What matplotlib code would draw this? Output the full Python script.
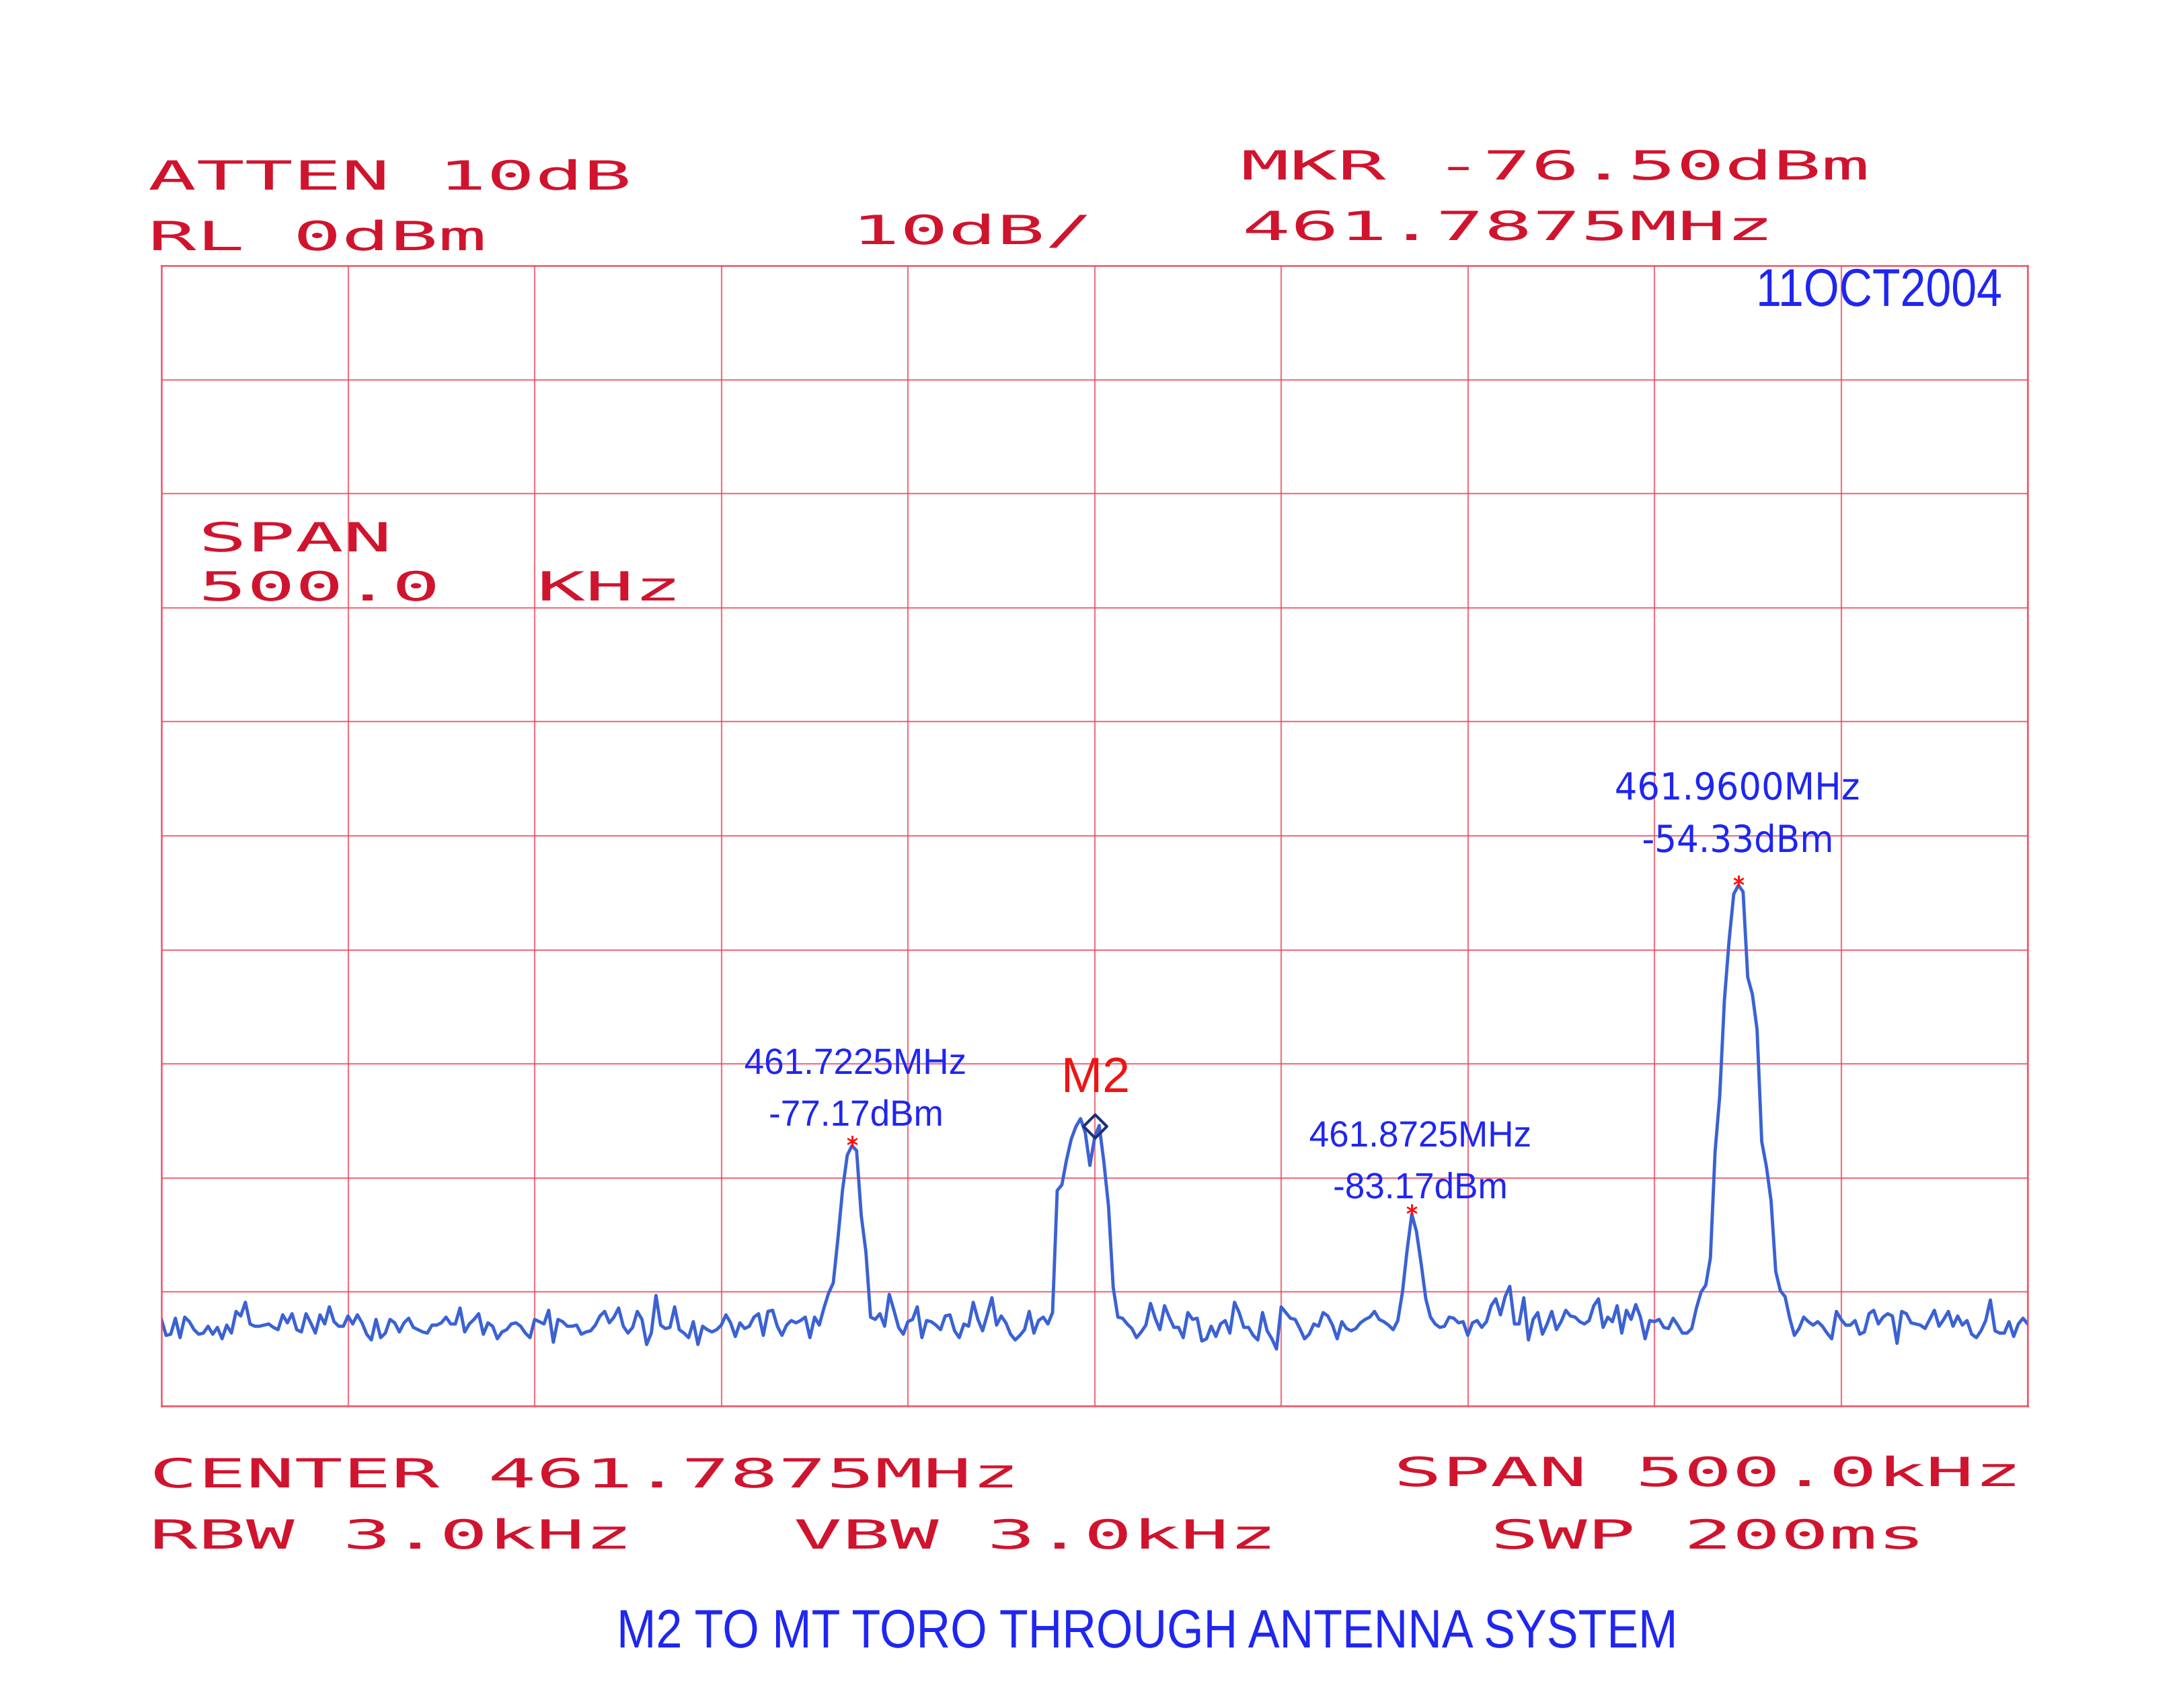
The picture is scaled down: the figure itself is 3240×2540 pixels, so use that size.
import numpy as np
import matplotlib
matplotlib.use("Agg")
import matplotlib.pyplot as plt
import matplotlib.patheffects as pe
from matplotlib.transforms import Affine2D
from matplotlib.path import Path

# ============================================================
# DATA
# ============================================================
CENTER_MHZ = 461.7875
SPAN_KHZ = 500.0
REF_LEVEL = 0.0
DB_PER_DIV = 10.0

# 401-point trace, dBm, from left edge to right edge of the span
trace_dbm = [
    -92.4, -93.8, -93.7, -92.3, -94.0, -92.2, -92.6, -93.3, -93.7, -93.6,
    -93.0, -93.7, -93.1, -94.1, -92.9, -93.6, -91.7, -92.1, -90.9, -92.8,
    -93.0, -93.0, -92.9, -92.8, -93.1, -93.3, -92.0, -92.7, -91.9, -93.3,
    -93.5, -91.9, -92.7, -93.6, -92.0, -92.8, -91.3, -92.6, -93.0, -93.0,
    -92.1, -92.8, -92.0, -92.7, -93.7, -94.2, -92.4, -94.0, -93.6, -92.4,
    -92.7, -93.5, -92.7, -92.3, -93.1, -93.3, -93.5, -93.6, -92.9, -92.9,
    -92.7, -92.2, -92.8, -92.8, -91.4, -93.5, -92.8, -92.4, -91.9, -93.7,
    -92.7, -93.0, -94.1, -93.5, -93.3, -92.8, -92.7, -93.0, -93.6, -94.0,
    -92.4, -92.6, -92.8, -91.6, -94.4, -92.4, -92.6, -93.0, -93.0, -92.9,
    -93.7, -93.5, -93.4, -92.9, -92.1, -91.7, -92.7, -92.2, -91.4, -93.0,
    -93.6, -93.1, -91.7, -92.4, -94.6, -93.6, -90.3, -92.9, -93.2, -93.1,
    -91.3, -93.3, -93.6, -94.0, -92.6, -94.6, -93.0, -93.3, -93.5, -93.3,
    -92.9, -92.0, -92.7, -93.9, -92.7, -93.2, -93.0, -92.2, -91.9, -93.8,
    -91.7, -91.6, -93.0, -93.8, -92.9, -92.5, -92.7, -92.5, -92.2, -94.0,
    -92.2, -92.9, -91.4, -90.1, -89.2, -85.3, -81.0, -78.0, -77.17, -77.6,
    -83.3, -86.5, -92.2, -92.4, -91.9, -93.0, -90.2, -91.6, -93.1, -93.7,
    -92.6, -92.4, -91.3, -94.0, -92.5, -92.6, -92.9, -93.3, -92.1, -92.0,
    -93.4, -94.0, -92.8, -93.0, -90.9, -92.4, -93.4, -92.0, -90.5, -92.9,
    -92.1, -92.7, -93.7, -94.2, -93.8, -93.3, -91.7, -93.6, -92.5, -92.2,
    -92.8, -91.8, -81.1, -80.6, -78.4, -76.6, -75.5, -74.8, -76.0, -78.9,
    -76.5, -75.4, -78.6, -82.5, -89.6, -92.2, -92.3, -92.8, -93.2, -94.0,
    -93.5, -92.9, -91.0, -92.3, -93.3, -91.2, -92.2, -93.1, -93.1, -94.0,
    -91.8, -92.4, -92.3, -94.3, -94.1, -93.0, -93.9, -92.8, -92.5, -93.6,
    -90.9, -91.8, -93.1, -93.1, -93.8, -94.2, -91.8, -93.4, -94.1, -95.0,
    -91.3, -91.8, -92.3, -92.4, -93.2, -94.1, -93.7, -92.8, -93.0, -91.8,
    -92.1, -92.9, -94.1, -92.6, -93.2, -93.4, -93.2, -92.7, -92.4, -92.2,
    -91.7, -92.4, -92.6, -92.9, -93.3, -92.5, -90.0, -86.3, -83.17, -84.7,
    -87.5, -90.6, -92.2, -92.8, -93.1, -93.0, -92.2, -92.3, -92.7, -92.6,
    -93.8, -92.7, -92.5, -93.1, -92.6, -91.2, -90.6, -92.0, -90.4, -89.5,
    -92.8, -92.8, -90.5, -94.2, -92.4, -91.8, -93.7, -92.8, -91.7, -93.3,
    -92.6, -91.6, -92.1, -92.2, -92.6, -92.8, -92.5, -91.2, -90.6, -93.1,
    -92.2, -92.6, -91.2, -93.6, -91.6, -92.4, -91.1, -92.2, -94.1, -92.5,
    -92.6, -92.4, -93.1, -93.2, -92.3, -92.9, -93.6, -93.6, -93.2, -91.4,
    -90.0, -89.4, -87.0, -77.7, -72.8, -64.4, -59.2, -55.1, -54.33, -54.9,
    -62.4, -63.9, -67.0, -76.8, -79.0, -82.0, -88.2, -89.9, -90.4, -92.3,
    -93.8, -93.2, -92.2, -92.6, -92.9, -92.6, -93.0, -93.6, -94.1, -91.7,
    -92.4, -92.9, -92.9, -92.5, -93.7, -93.5, -91.9, -91.6, -92.8, -92.2,
    -91.9, -92.1, -94.5, -91.7, -91.9, -92.7, -92.8, -92.9, -93.2, -92.4,
    -91.6, -93.0, -92.4, -91.7, -93.0, -92.1, -92.9, -92.5, -93.7, -94.0,
    -93.4, -92.5, -90.7, -93.4, -93.6, -93.6, -92.6, -93.9, -92.8, -92.3,
    -92.8,
]

peak_freqs = [461.7225, 461.8725, 461.9600]
peak_levels = [-77.17, -83.17, -54.33]
marker_freq = 461.7875
marker_level = -76.50

# ============================================================
# FIGURE
# ============================================================
W, H = 3240, 2540
fig = plt.figure(figsize=(W / 100, H / 100), dpi=100)
fig.patch.set_facecolor("white")

RED = "#d0142e"
GRID = "#ee4458"
TRACE = "#3b62d4"
BLUE = "#1f26f0"

f_start = CENTER_MHZ - SPAN_KHZ / 2000
f_stop = CENTER_MHZ + SPAN_KHZ / 2000
freqs = np.linspace(f_start, f_stop, len(trace_dbm))

left, right, top, bottom = 240, 3015, 395, 2091
ax = fig.add_axes([left / W, 1 - bottom / H, (right - left) / W, (bottom - top) / H])
ax.set_xlim(f_start, f_stop)
ax.set_ylim(REF_LEVEL - 10 * DB_PER_DIV, REF_LEVEL)
ax.set_xticks(np.linspace(f_start, f_stop, 11))
ax.set_yticks(np.arange(REF_LEVEL - 10 * DB_PER_DIV, REF_LEVEL + 1, DB_PER_DIV))
ax.tick_params(length=0, labelbottom=False, labelleft=False)
ax.grid(True, color=GRID, lw=1.6, alpha=0.75)
for sp in ax.spines.values():
    sp.set_color(GRID)
    sp.set_linewidth(1.8)
    sp.set_alpha(0.85)

ax.plot(freqs, trace_dbm, color=TRACE, lw=3.5, solid_joinstyle="round")

# red asterisks on the three carriers
ax.plot(peak_freqs, np.array(peak_levels) + 0.4, ls="none", marker=(6, 2, 0),
        ms=12, mec="#ff1010", mew=1.6)

# diamond marker, bottom tip sitting on the marker level
diamond = Path([(0, 0), (1, 1), (0, 2), (-1, 1), (0, 0)],
               [Path.MOVETO, Path.LINETO, Path.LINETO, Path.LINETO, Path.CLOSEPOLY])
ax.plot([marker_freq], [marker_level], ls="none", marker=diamond, ms=50,
        mfc="none", mec="#1d2f7a", mew=3)


# ============================================================
# TEXT
# ============================================================
class Stretch(pe.AbstractPathEffect):
    """Widen / narrow glyphs horizontally around the anchor x (pixels)."""

    def __init__(self, sx, x0):
        super().__init__()
        self.sx = sx
        self.x0 = x0

    def draw_path(self, renderer, gc, tpath, affine, rgbFace=None):
        squeeze = Affine2D().translate(-self.x0, 0).scale(self.sx, 1).translate(self.x0, 0)
        renderer.draw_path(gc, tpath, affine + squeeze, rgbFace)


def put(x, y, s, size, color, family, sx=1.0, ha="left"):
    fig.text(x / W, 1 - y / H, s, fontsize=size, color=color, family=family,
             ha=ha, va="baseline", path_effects=[Stretch(sx, x)])


def plotter(x, y, s):
    put(x, y, s, 43, RED, "DejaVu Sans Mono", sx=2.0)


plotter(220, 282, "ATTEN 10dB")
plotter(220, 372, "RL 0dBm")
plotter(1266, 363, "10dB/")
plotter(1845, 267, "MKR -76.50dBm")
plotter(1847, 357, "461.7875MHz")
plotter(295, 820, "SPAN")
plotter(295, 893, "500.0  KHz")
plotter(222, 2212, "CENTER 461.7875MHz")
plotter(2072, 2210, "SPAN 500.0kHz")
plotter(222, 2303, "RBW 3.0kHz")
plotter(1180, 2303, "VBW 3.0kHz")
plotter(2216, 2303, "SWP 200ms")

# hand-added annotations
put(2977, 455, "11OCT2004", 57, BLUE, "Liberation Sans", sx=0.86, ha="right")
put(1272, 1597, "461.7225MHz", 39, BLUE, "Liberation Sans", sx=0.98, ha="center")
put(1273, 1674, "-77.17dBm", 39, BLUE, "Liberation Sans", sx=0.98, ha="center")
put(1629, 1624, "M2", 53, "#ee1414", "Liberation Sans", ha="center")
put(2112, 1705, "461.8725MHz", 39, BLUE, "Liberation Sans", sx=0.98, ha="center")
put(2112, 1782, "-83.17dBm", 39, BLUE, "Liberation Sans", sx=0.98, ha="center")
put(2583, 1189, "461.9600MHz", 40, BLUE, "DejaVu Sans", sx=0.95, ha="center")
put(2584, 1267, "-54.33dBm", 40, BLUE, "DejaVu Sans", sx=0.93, ha="center")
put(1705, 2450, "M2 TO MT TORO THROUGH ANTENNA SYSTEM", 58, BLUE,
    "Liberation Sans", sx=0.87, ha="center")

fig.savefig("out.png", dpi=100, facecolor="white")
